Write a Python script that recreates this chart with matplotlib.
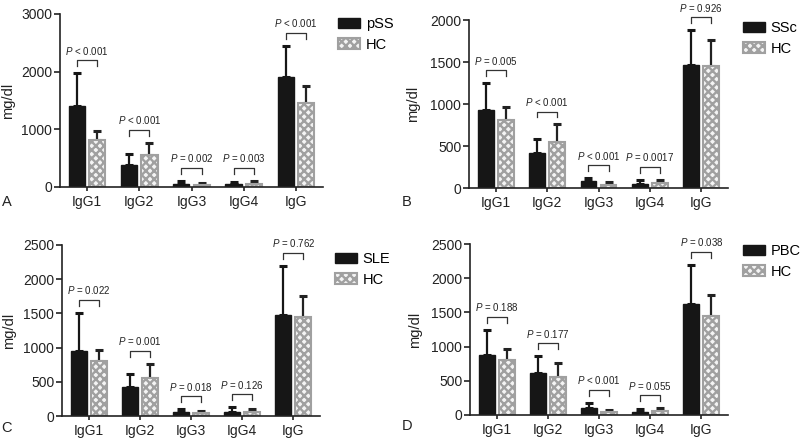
import numpy as np
import matplotlib
matplotlib.use("Agg")
import matplotlib.pyplot as plt

plt.rcParams['font.family'] = ['Liberation Sans', 'DejaVu Sans']
plt.rcParams['mathtext.fontset'] = 'custom'
plt.rcParams['mathtext.rm'] = 'Liberation Sans'
plt.rcParams['mathtext.it'] = 'Liberation Sans:italic'
plt.rcParams['hatch.linewidth'] = 1.7

categories = ['IgG1', 'IgG2', 'IgG3', 'IgG4', 'IgG']

# healthy controls (same in every panel)
hc_mean = [810, 550, 40, 60, 1450]
hc_sd_top = [970, 760, 70, 100, 1760]

# disease groups: mean and top of error bar
pss_mean = [1400, 390, 60, 45, 1900]
pss_top = [1970, 570, 100, 95, 2450]
ssc_mean = [930, 420, 78, 50, 1460]
ssc_top = [1250, 580, 120, 98, 1880]
sle_mean = [950, 420, 60, 60, 1475]
sle_top = [1510, 610, 100, 130, 2200]
pbc_mean = [880, 610, 100, 45, 1630]
pbc_top = [1250, 860, 180, 85, 2200]

pss_p = ['< 0.001', '< 0.001', '= 0.002', '= 0.003', '< 0.001']
ssc_p = ['= 0.005', '< 0.001', '< 0.001', '= 0.0017', '= 0.926']
sle_p = ['= 0.022', '= 0.001', '= 0.018', '= 0.126', '= 0.762']
pbc_p = ['= 0.188', '= 0.177', '< 0.001', '= 0.055', '= 0.038']

W, H = 800, 441

panels = [
    # name, mean, top, pvals, ymax, ystep, letter, axes box px (left, top, right, bottom), legend px, letter px, ylabel x
    ('pSS', pss_mean, pss_top, pss_p, 3000, 1000, 'A', (60, 14, 323, 187), (338, 17), (7, 202), -0.17),
    ('SSc', ssc_mean, ssc_top, ssc_p, 2000, 500, 'B', (469, 20, 728, 188), (743, 21), (407, 202), -0.19),
    ('SLE', sle_mean, sle_top, sle_p, 2500, 500, 'C', (62, 245, 320, 416), (335, 252), (6, 428), -0.18),
    ('PBC', pbc_mean, pbc_top, pbc_p, 2500, 500, 'D', (470, 244, 728, 415), (743, 244), (407, 426), -0.186),
]

fig = plt.figure(figsize=(W / 100, H / 100), dpi=100)

x = np.arange(len(categories))
bw = 0.31
off = 0.195

for name, mean, top, pvals, ymax, ystep, letter, box, legpos, letpos, ylx in panels:
    l, t, r, b = box
    ax = fig.add_axes([l / W, 1 - b / H, (r - l) / W, (b - t) / H])

    mean = np.array(mean)
    top = np.array(top)
    hm = np.array(hc_mean)
    ht = np.array(hc_sd_top)

    b1 = ax.bar(x - off, mean, bw, color='#161616', edgecolor='#161616', lw=1, label=name, zorder=2)
    ax.errorbar(x - off, mean, yerr=[np.zeros_like(mean), top - mean], fmt='none',
                ecolor='#161616', elinewidth=1.6, capsize=3, capthick=2.2, zorder=1)
    b2 = ax.bar(x + off, hm, bw, color='#f4f4f4', edgecolor='#a0a0a0', hatch='xxxx', lw=1.5,
                label='HC', zorder=2)
    ax.errorbar(x + off, hm, yerr=[np.zeros_like(hm), ht - hm], fmt='none',
                ecolor='#222222', elinewidth=1.6, capsize=3, capthick=2.2, zorder=1)

    # significance brackets
    for i in range(len(categories)):
        yb = max(top[i], ht[i]) + 0.075 * ymax
        leg = 0.035 * ymax
        ax.plot([i - off, i - off, i + off, i + off], [yb - leg, yb, yb, yb - leg],
                color='#333333', lw=0.9, clip_on=False)
        ax.text(i, yb + 0.022 * ymax, '$P$ ' + pvals[i], ha='center', va='bottom',
                fontsize=7, color='#222222', clip_on=False)

    ax.set_xlim(-0.52, 4.52)
    ax.set_ylim(0, ymax)
    ax.set_yticks(np.arange(0, ymax + 1, ystep))
    ax.set_xticks(x)
    ax.set_xticklabels(categories)
    for s in ['top', 'right']:
        ax.spines[s].set_visible(False)
    for s in ['left', 'bottom']:
        ax.spines[s].set_linewidth(1.2)
        ax.spines[s].set_color('#222222')
    ax.tick_params(axis='y', length=4, width=1.2, labelsize=10, pad=1.5, colors='#222222')
    ax.tick_params(axis='x', length=3, width=1.2, labelsize=10, pad=3, colors='#222222')
    ax.set_ylabel('mg/dl', fontsize=10.5, color='#222222')
    ax.yaxis.set_label_coords(ylx, 0.5)

    ax.legend(handles=[b1, b2], loc='upper left', bbox_to_anchor=(legpos[0] / W, 1 - legpos[1] / H),
              bbox_transform=fig.transFigure, frameon=False, fontsize=10.5, borderpad=0,
              borderaxespad=0, handlelength=1.5, handleheight=0.7, handletextpad=0.4,
              labelspacing=0.45)

    fig.text(letpos[0] / W, 1 - letpos[1] / H, letter, fontsize=10.5, ha='center', va='center',
             color='#222222')

fig.savefig('out.png', dpi=100)
